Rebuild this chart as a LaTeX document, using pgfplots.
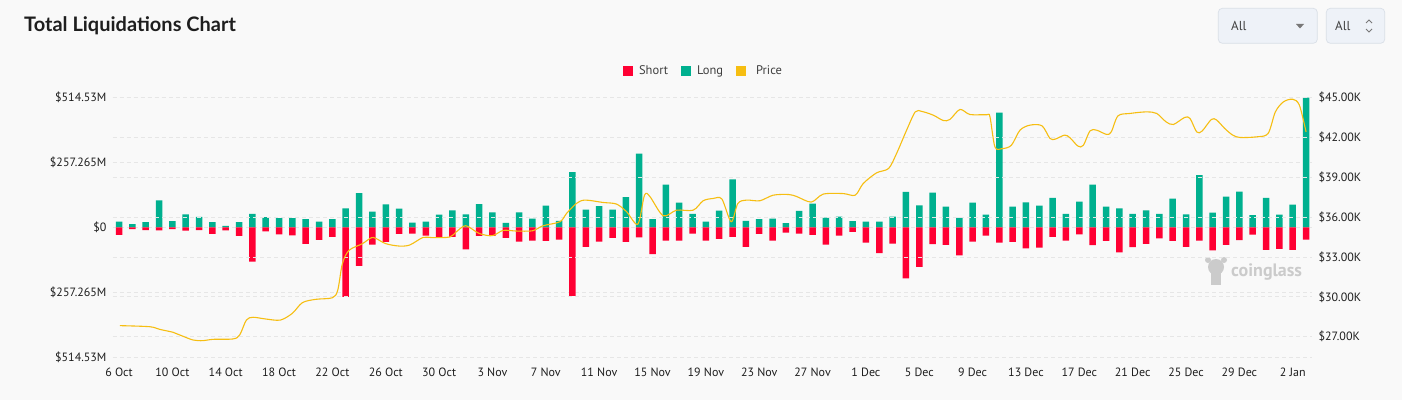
\documentclass[border=0pt]{standalone}
\usepackage{pgfplots}
\pgfplotsset{compat=1.18}
\usepackage{pgfplotstable}
\usepackage{fontspec}
\setmainfont{PT Sans}
\newfontfamily\titlefont{Lato}
\newfontfamily\symfont{DejaVu Sans}
\definecolor{bg}{HTML}{F9F9F9}
\definecolor{shortc}{HTML}{FF0033}
\definecolor{longc}{HTML}{00B08F}
\definecolor{pricec}{HTML}{F6BE12}
\definecolor{gridc}{HTML}{E6E6E6}
\definecolor{txt}{HTML}{1E1E1E}
\definecolor{boxfill}{HTML}{EEF2F8}
\definecolor{boxdraw}{HTML}{D9DFE7}
\definecolor{wm}{HTML}{CBCBCB}

% day (0 = 6 Oct), long liquidations (M USD), short liquidations (M USD, negative)
\pgfplotstableread{
day long short
0 22 -30
1 12 -7
2 20 -11
3 107 -12
4 24 -7
5 51 -13
6 41 -11
7 20 -26
8 5 -12
9 20 -34
10 53 -136
11 40 -16
12 36 -28
13 36 -32
14 32 -66
15 22 -50
16 32 -38
17 75 -276
18 135 -153
19 62 -69
20 91 -58
21 74 -26
22 18 -25
23 22 -33
24 50 -41
25 67 -38
26 51 -88
27 92 -34
28 59 -34
29 17 -42
30 59 -57
31 34 -53
32 86 -54
33 25 -49
34 219 -272
35 70 -78
36 84 -57
37 70 -42
38 119 -58
39 292 -40
40 32 -107
41 169 -53
42 98 -53
43 53 -25
44 22 -53
45 66 -46
46 190 -38
47 25 -78
48 32 -26
49 34 -53
50 16 -21
51 65 -25
52 94 -30
53 38 -69
54 42 -33
55 24 -18
56 22 -61
57 22 -103
58 42 -65
59 140 -203
60 87 -157
61 137 -67
62 82 -70
63 37 -112
64 98 -57
65 50 -33
66 455 -61
67 82 -58
68 99 -84
69 86 -81
70 117 -38
71 53 -53
72 102 -28
73 169 -71
74 82 -54
75 75 -100
76 53 -79
77 67 -66
78 53 -44
79 114 -54
80 51 -78
81 207 -53
82 58 -92
83 121 -70
84 141 -51
85 48 -29
86 117 -90
87 50 -86
88 90 -90
89 514.53 -49
}\liq

% price (K USD)
\pgfplotstableread{
day price
0.06 27.83
2.3 27.75
3.05 27.55
4.05 27.33
4.55 27.13
5.55 26.75
6.3 26.7
7.05 26.8
8.55 26.83
9.05 27.13
9.55 28.25
10.05 28.46
11 28.33
12.1 28.25
13 28.76
13.75 29.56
14.75 29.81
16 29.93
16.4 30.5
16.75 32.5
17.25 33.5
18.25 34.0
18.9 34.44
19.25 34.4
20 34.0
21 33.82
21.8 33.9
22.8 34.47
23.5 34.45
24.8 34.5
25.3 34.9
26 35.35
27 34.77
28 34.6
28.8 35.0
29.8 34.95
31 34.97
31.8 35.35
33.06 35.65
33.56 36.28
34.3 37.03
34.93 37.28
36.3 37.1
37.3 36.98
38.06 36.4
38.9 35.47
39.4 37.65
39.8 37.55
40.8 36.1
41.8 36.52
43.05 36.52
43.8 37.23
44.55 37.4
45.2 37.36
45.9 35.65
46.4 37.03
47.05 37.28
48.05 37.23
49.05 37.65
50.2 37.7
50.8 37.55
51.9 37.13
52.8 37.73
54.3 37.77
55.2 37.65
55.8 38.53
56.8 39.33
57.7 39.66
58.3 40.79
59.05 42.54
59.7 43.92
60.2 43.95
61.05 43.67
61.8 43.27
62.3 43.35
63.05 44.1
63.8 43.72
65.05 43.7
65.3 43.55
65.67 41.29
66.2 41.15
66.9 41.4
67.55 42.54
68.3 42.92
69.2 42.87
69.8 41.92
70.2 41.87
70.9 42.17
71.3 41.97
71.9 41.34
72.3 41.4
72.8 42.49
73.3 42.54
74.05 42.22
74.4 42.42
74.9 43.62
75.8 43.8
77.05 43.92
77.8 43.8
78.5 43.17
79.05 42.97
79.9 43.5
80.3 43.42
80.8 42.41
81.2 42.47
81.9 43.35
82.3 43.3
82.9 42.67
83.5 42.17
84.05 41.99
85.3 42.04
86.15 42.29
86.7 43.92
87.3 44.67
88.0 44.87
88.5 44.42
89 42.41
}\price

\pgfplotsset{
  common/.style={
    at={(0pt,0pt)}, anchor=south west,
    scale only axis, width=1199pt, height=259.5pt,
    xmin=-0.45, xmax=89.45,
    major tick length=0pt,
    tick style={draw=none},
    ticklabel style={font=\fontsize{12}{14}\selectfont, text=txt},
    major grid style={gridc, dash pattern=on 4pt off 3pt, line width=0.8pt},
    /pgf/number format/assume math mode=true,
  }
}

\begin{document}
\begin{tikzpicture}
\fill[bg] (-113pt,-43pt) rectangle (1289pt,357pt);
% title
\node[anchor=west, inner sep=0pt, text=txt, font=\titlefont\bfseries\fontsize{20}{21}\selectfont] at (-89pt,331pt) {Total Liquidations Chart};
% dropdowns
\draw[boxdraw, fill=boxfill, rounded corners=4pt, line width=0.7pt] (1105.3pt,313.7pt) rectangle (1204.3pt,348.7pt);
\draw[boxdraw, fill=boxfill, rounded corners=4pt, line width=0.7pt] (1213.3pt,313.7pt) rectangle (1271.7pt,348.7pt);
\node[anchor=west, inner sep=0pt, text=txt!85, font=\fontsize{13}{14}\selectfont] at (1118pt,331pt) {All};
\node[anchor=west, inner sep=0pt, text=txt!85, font=\fontsize{13}{14}\selectfont] at (1222pt,331pt) {All};
\fill[txt!60] (1183pt,333pt) -- (1191pt,333pt) -- (1187pt,328.5pt) -- cycle;
\draw[txt!60, line width=0.9pt] (1253pt,334pt) -- (1256pt,337pt) -- (1259pt,334pt);
\draw[txt!60, line width=0.9pt] (1253pt,328pt) -- (1256pt,325pt) -- (1259pt,328pt);
% watermark
\fill[wm] (1103pt,90pt) circle (8pt);
\fill[wm] (1098pt,72pt) rectangle (1108pt,84pt);
\fill[wm] (1095pt,97pt) circle (3pt);
\fill[wm] (1111pt,97pt) circle (3pt);
\node[anchor=west, inner sep=0pt, text=wm, font=\bfseries\fontsize{18}{20}\selectfont] at (1118pt,84.5pt) {coinglass};

\begin{axis}[common,
  ymin=-514.53, ymax=514.53,
  ytick={-514.53,-257.265,0,257.265,514.53},
  yticklabels={\$514.53M,\$257.265M,\$0,\$257.265M,\$514.53M},
  yticklabel style={xshift=-3pt},
  xtick={0,4,...,88},
  xticklabels={6 Oct,10 Oct,14 Oct,18 Oct,22 Oct,26 Oct,30 Oct,3 Nov,7 Nov,11 Nov,15 Nov,19 Nov,23 Nov,27 Nov,1 Dec,5 Dec,9 Dec,13 Dec,17 Dec,21 Dec,25 Dec,29 Dec,2 Jan},
  xticklabel style={yshift=-7pt},
  ymajorgrids,
  axis line style={draw=none},
  legend style={at={(0.5,1)}, anchor=center, xshift=-9pt, yshift=26.5pt,
    draw=none, fill=none, font=\fontsize{12.5}{14}\selectfont, text=txt!85,
    /tikz/every even column/.append style={column sep=11pt}},
  legend columns=3,
  legend image code/.code={\path[draw=none, fill=none] (0pt,-5pt) rectangle (14pt,5pt); \path[#1, draw=none] (0pt,-5pt) rectangle (10pt,5pt);},
]
\addplot[ybar, bar width=6.5pt, bar shift=0pt, fill=longc, draw=none, forget plot] table[x=day,y=long]{\liq};
\addplot[ybar, bar width=6.5pt, bar shift=0pt, fill=shortc, draw=none, forget plot] table[x=day,y=short]{\liq};
\addlegendimage{fill=shortc, draw=none}
\addlegendentry{Short}
\addlegendimage{fill=longc, draw=none}
\addlegendentry{Long}
\addlegendimage{fill=pricec, draw=none}
\addlegendentry{\hspace{4pt}Price}
\end{axis}

\begin{axis}[common,
  ymin=25.47, ymax=45,
  axis y line*=right, axis x line=none,
  ytick={27,30,...,45},
  yticklabels={\$27.00K,\$30.00K,\$33.00K,\$36.00K,\$39.00K,\$42.00K,\$45.00K},
  yticklabel style={xshift=3pt},
  ymajorgrids,
  y axis line style={draw=none},
]
\addplot[pricec, line width=1.1pt, smooth, tension=0.5] table[x=day,y=price]{\price};
\end{axis}
\end{tikzpicture}
\end{document}
